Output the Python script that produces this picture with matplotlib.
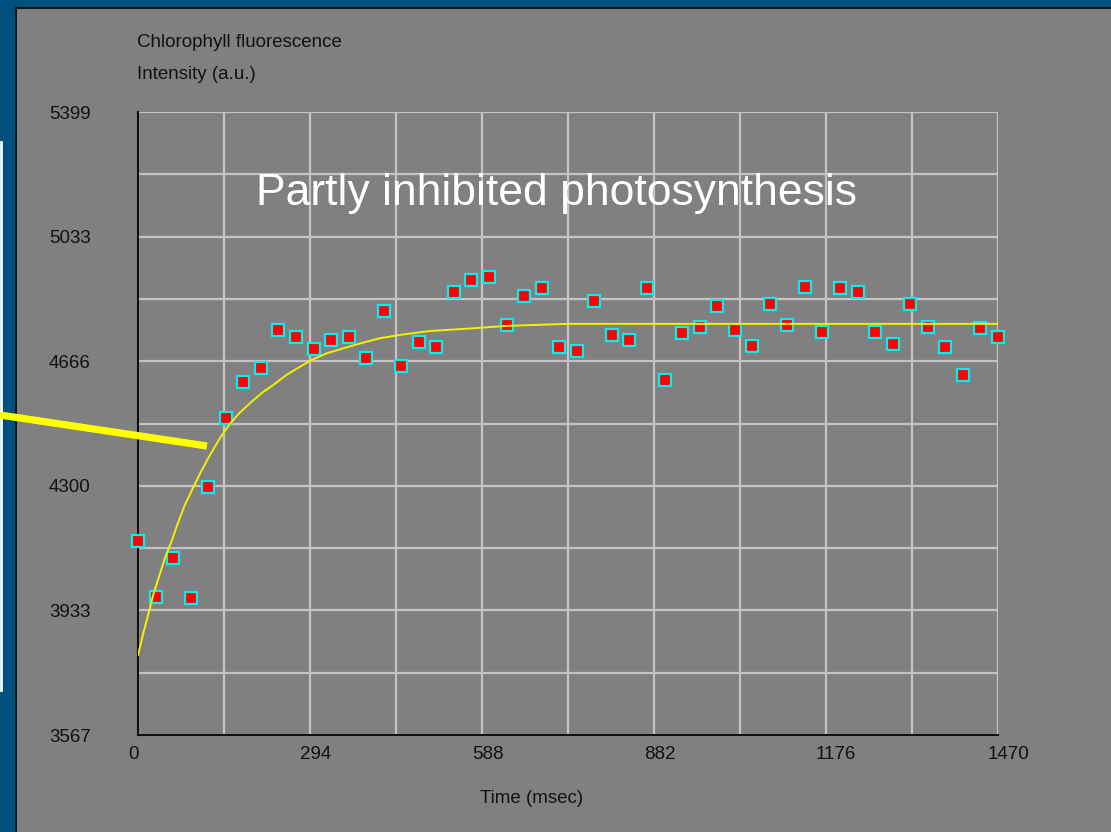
import matplotlib
matplotlib.use("Agg")
import matplotlib.pyplot as plt
from matplotlib import font_manager
from matplotlib.lines import Line2D
from matplotlib.patches import Rectangle
import matplotlib.transforms as mtransforms

# measured fluorescence, one sample every 30 msec
time_ms = [0, 30, 60, 90, 120, 150, 180, 210, 240, 270,
           300, 330, 360, 390, 420, 450, 480, 510, 540, 570,
           600, 630, 660, 690, 720, 750, 780, 810, 840, 870,
           900, 930, 960, 990, 1020, 1050, 1080, 1110, 1140, 1170,
           1200, 1230, 1260, 1290, 1320, 1350, 1380, 1410, 1440, 1470]
intensity = [4137, 3974, 4087, 3969, 4295, 4498, 4604, 4645, 4758, 4736,
             4701, 4728, 4737, 4676, 4814, 4651, 4723, 4707, 4869, 4905,
             4915, 4773, 4859, 4881, 4707, 4697, 4844, 4743, 4729, 4881,
             4611, 4748, 4768, 4829, 4758, 4712, 4834, 4773, 4885, 4753,
             4881, 4869, 4753, 4717, 4834, 4768, 4707, 4626, 4763, 4738]

# fitted curve
fit_t = [0, 9, 18, 26, 36, 46, 58, 69, 80, 95, 109, 123, 140, 157, 174,
         191, 211, 231, 254, 277, 297, 322, 351, 385, 414, 454, 499, 573,
         630, 735, 1470]
fit_v = [3802, 3866, 3925, 3979, 4033, 4087, 4140, 4194, 4243, 4297, 4346,
         4390, 4440, 4482, 4515, 4542, 4572, 4596, 4626, 4650, 4670, 4689,
         4704, 4721, 4734, 4745, 4755, 4763, 4770, 4776, 4776]

x_ticks = [0, 294, 588, 882, 1176, 1470]
y_ticks = [3567, 3933.4, 4299.8, 4666.2, 5032.6, 5399]
y_labels = ["3567", "3933", "4300", "4666", "5033", "5399"]

W, H = 1111, 832
blue = "#00507f"
panel = "#808080"

names = {f.name for f in font_manager.fontManager.ttflist}
small_font = "Liberation Sans"
if "Liberation Sans Narrow" in names:
    title_font, title_size = "Liberation Sans Narrow", 38
else:
    title_font, title_size = "Liberation Sans", 32

fig = plt.figure(figsize=(W / 100, H / 100), dpi=100, facecolor=blue)

# gray panel with dark top/left edge
fig.add_artist(Rectangle((15 / W, 0), 1, (H - 7) / H, transform=fig.transFigure,
                         facecolor=panel, edgecolor="none", zorder=-2))
fig.add_artist(Line2D([16 / W, 1], [(H - 8) / H, (H - 8) / H], color="#151515", lw=1.5, zorder=-1))
fig.add_artist(Line2D([16 / W, 16 / W], [0, (H - 8) / H], color="#151515", lw=1.5, zorder=-1))
# white edge of a box on the far left
fig.add_artist(Line2D([1 / W, 1 / W], [(H - 690) / H, (H - 142) / H], color="white", lw=2, zorder=-1))

ax = fig.add_axes([138 / W, (H - 735) / H, 860 / W, 623 / H])
ax.set_facecolor(panel)
ax.set_xlim(0, 1470)
ax.set_ylim(3567, 5399)

ax.set_xticks([147 * i for i in range(11)])
ax.set_xticklabels([])
ax.set_yticks(y_ticks)
ax.set_yticks([3567 + 183.2 * i for i in range(1, 10, 2)], minor=True)
ax.set_yticklabels(y_labels, fontsize=13.5, family=small_font, color="#111111")
ax.tick_params(axis="both", which="both", length=0)
ax.tick_params(axis="y", pad=34)
ax.grid(True, which="both", color="#c4c4c4", lw=1.6)
ax.set_axisbelow(True)

for s in ["top", "right"]:
    ax.spines[s].set_visible(False)
for s in ["left", "bottom"]:
    ax.spines[s].set_color("#111111")
    ax.spines[s].set_linewidth(1.5)

# x tick labels sit left-aligned a little before each tick
offset = mtransforms.ScaledTranslation(-10 / 100, -11 / 100, fig.dpi_scale_trans)
xform = mtransforms.blended_transform_factory(ax.transData, ax.transAxes) + offset
for t in x_ticks:
    ax.text(t, 0, str(t), transform=xform, ha="left", va="top",
            fontsize=13.5, family=small_font, color="#111111")

ax.plot(time_ms, intensity, linestyle="none", marker="s", markersize=9,
        markerfacecolor="#ff0000", markeredgecolor="#00f0f0", markeredgewidth=1.6,
        clip_on=False, zorder=3)
ax.plot(fit_t, fit_v, color="#f2f200", lw=1.4, zorder=4)

fig.text(137 / W, (H - 47) / H, "Chlorophyll fluorescence", fontsize=13.5,
         family=small_font, color="#111111", va="baseline")
fig.text(137 / W, (H - 79) / H, "Intensity (a.u.)", fontsize=13.5,
         family=small_font, color="#111111", va="baseline")
fig.text(532 / W, (H - 803) / H, "Time (msec)", fontsize=13.5,
         family=small_font, color="#111111", va="baseline", ha="center")

fig.text(557 / W, (H - 205) / H, "Partly inhibited photosynthesis",
         fontsize=title_size, family=title_font, color="white",
         ha="center", va="baseline")

# pointer line
fig.add_artist(Line2D([0, 207 / W], [(H - 415) / H, (H - 446) / H],
                      color="#ffff00", lw=5.2, solid_capstyle="butt", zorder=10))

fig.savefig("out.png", dpi=100, facecolor=blue)
